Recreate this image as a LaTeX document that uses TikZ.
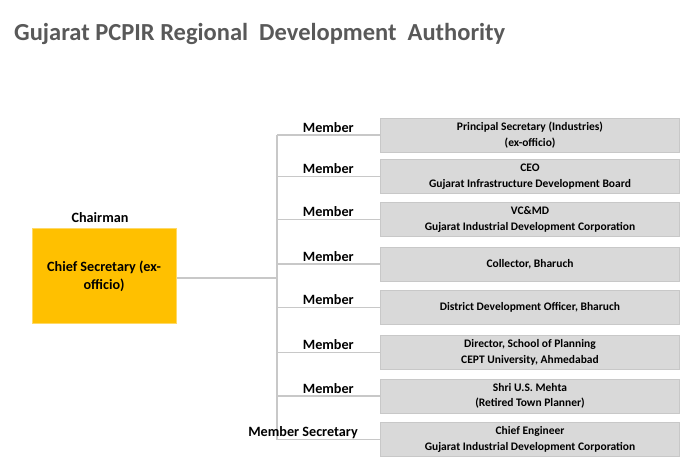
\documentclass[tikz,border=0pt]{standalone}
\usepackage{fontspec}
\setmainfont{Carlito}
\definecolor{titlegray}{HTML}{595959}
\definecolor{boxgray}{HTML}{D9D9D9}
\definecolor{boxedge}{HTML}{C8C8C8}
\definecolor{linegray}{HTML}{C8C8C8}
\definecolor{chairfill}{HTML}{FFC000}
\definecolor{chairedge}{HTML}{FFD966}
\begin{document}
\begin{tikzpicture}[x=1pt,y=-1pt,
  memberbox/.style={draw=boxedge,fill=boxgray,line width=1pt,minimum width=299pt,minimum height=34pt,inner sep=0pt,anchor=west,align=center,font=\fontsize{11.5}{15.5}\selectfont\bfseries},
  rolelabel/.style={anchor=base east,inner sep=0pt,font=\fontsize{14.2}{16}\selectfont\bfseries},
  conn/.style={draw=linegray,line width=1.3pt}]
\useasboundingbox (0,0) rectangle (699,460);
\node[anchor=base west,inner sep=0pt,text=titlegray,font=\fontsize{24.5}{28}\selectfont\bfseries] (title) at (14,41) {Gujarat PCPIR Regional\ \ Development\ \ Authority};
\node[draw=chairedge,fill=chairfill,line width=1pt,minimum width=144pt,minimum height=95pt,inner sep=0pt,align=center,font=\fontsize{14.2}{18}\selectfont\bfseries] (chair) at (104,276) {Chief Secretary (ex-\\officio)};
\node[anchor=base,inner sep=0pt,font=\fontsize{14.2}{16}\selectfont\bfseries] (chairlbl) at (100,222) {Chairman};
\coordinate (top) at (277,135);
\coordinate (bot) at (277,439.5);
\coordinate (mid) at (277,278);
\node[memberbox] (b1) at (380,135) {Principal Secretary (Industries)\\(ex-officio)};
\node[memberbox] (b2) at (380,176.5) {CEO\\Gujarat Infrastructure Development Board};
\node[memberbox] (b3) at (380,219.5) {VC\&MD\\Gujarat Industrial Development Corporation};
\node[memberbox] (b4) at (380,264) {Collector, Bharuch};
\node[memberbox] (b5) at (380,307.5) {District Development Officer, Bharuch};
\node[memberbox] (b6) at (380,352.5) {Director, School of Planning\\CEPT University, Ahmedabad};
\node[memberbox] (b7) at (380,396) {Shri U.S. Mehta\\(Retired Town Planner)};
\node[memberbox] (b8) at (380,439.5) {Chief Engineer\\Gujarat Industrial Development Corporation};
\draw[conn] (chair.east |- mid) -- (mid);
\draw[conn] (top) -- (bot);
\foreach \i in {1,...,8}{
  \draw[conn] (top |- b\i.west) -- (b\i.west);
}
\path (b1.west) ++(-26,-3) node[rolelabel] (m1) {Member};
\path (b2.west) ++(-26,-3) node[rolelabel] (m2) {Member};
\path (b3.west) ++(-26,-3) node[rolelabel] (m3) {Member};
\path (b4.west) ++(-26,-3) node[rolelabel] (m4) {Member};
\path (b5.west) ++(-26,-3) node[rolelabel] (m5) {Member};
\path (b6.west) ++(-26,-3) node[rolelabel] (m6) {Member};
\path (b7.west) ++(-26,-3) node[rolelabel] (m7) {Member};
\path (b8.west) ++(-22,-3) node[rolelabel] (m8) {Member Secretary};
\end{tikzpicture}
\end{document}
